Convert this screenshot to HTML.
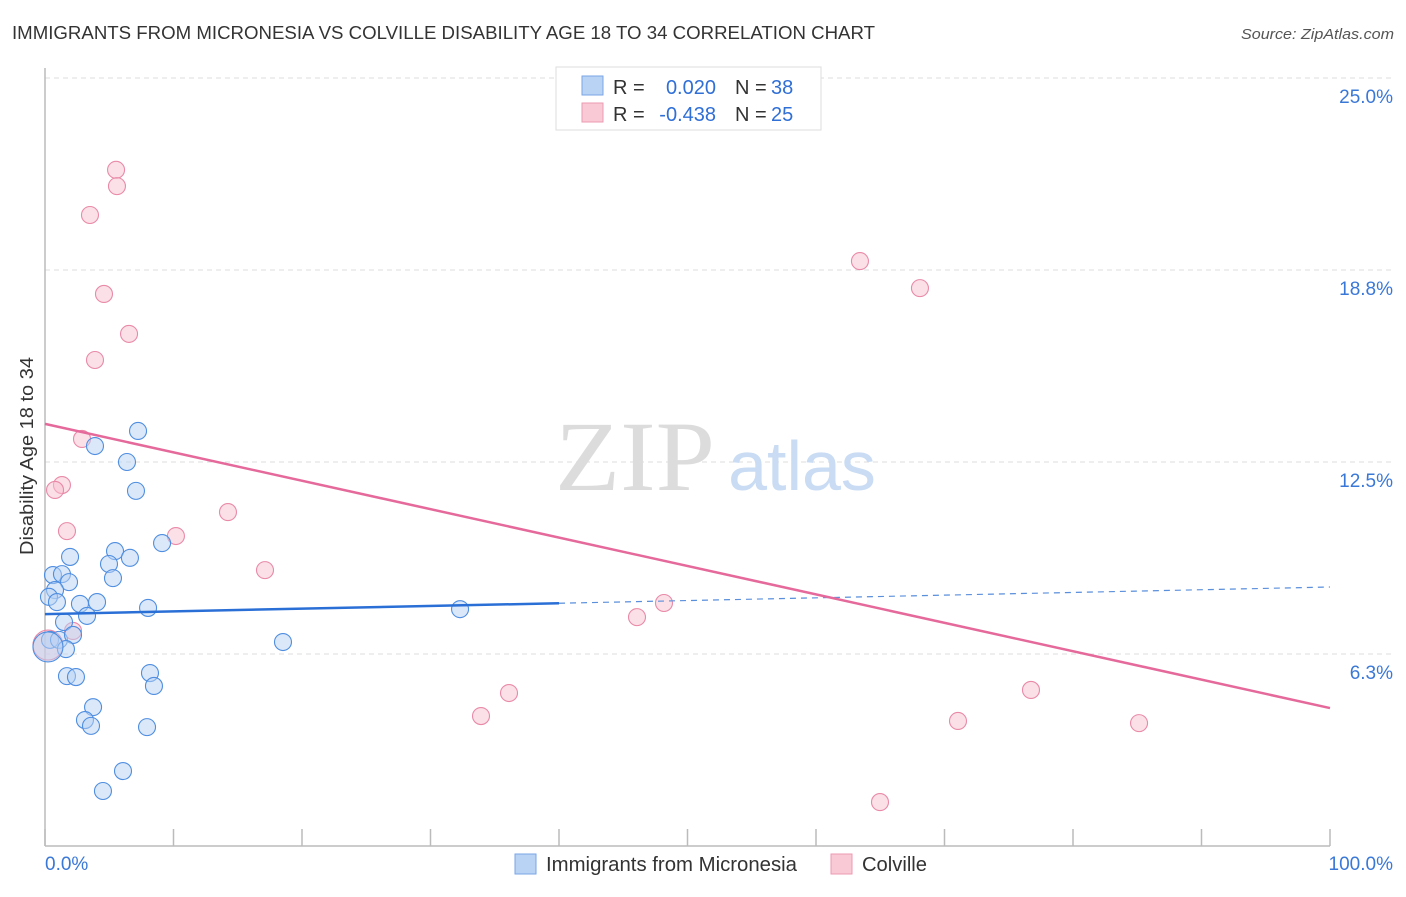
<!DOCTYPE html>
<html><head><meta charset="utf-8"><style>
body{margin:0;background:#fff;font-family:"Liberation Sans",sans-serif;}
svg text{font-family:"Liberation Sans",sans-serif;}
</style></head><body>
<svg width="1406" height="892" id="chart">
<text x="12" y="39" font-size="18" fill="#333" textLength="863" lengthAdjust="spacingAndGlyphs">IMMIGRANTS FROM MICRONESIA VS COLVILLE DISABILITY AGE 18 TO 34 CORRELATION CHART</text>
<text x="1394" y="39" font-size="15" fill="#555" font-style="italic" text-anchor="end" textLength="153" lengthAdjust="spacingAndGlyphs">Source: ZipAtlas.com</text>
<g id="grid"></g>
<line x1="45" y1="68" x2="45" y2="846" stroke="#bbb" stroke-width="1.5"/>
<line x1="45" y1="846" x2="1330" y2="846" stroke="#bbb" stroke-width="1.5"/>
<g id="xticks"></g>
<text x="33" y="456" font-size="18" fill="#333" text-anchor="middle" textLength="198" lengthAdjust="spacingAndGlyphs" transform="rotate(-90 33 456)">Disability Age 18 to 34</text>
<text x="45" y="870" font-size="19" fill="#3a78d8" text-anchor="start">0.0%</text>
<text x="1393" y="870" font-size="19" fill="#3a78d8" text-anchor="end">100.0%</text>
<g>
<text x="635" y="490" font-size="100" fill="#dcdcdc" style="font-family:'Liberation Serif',serif" text-anchor="middle" textLength="160" lengthAdjust="spacingAndGlyphs">ZIP</text>
<text x="802" y="490" font-size="70" fill="#c9dcf3" text-anchor="middle">atlas</text>
</g>
<g id="points"></g>
<g id="lines"></g>
<g>
<rect x="556" y="67" width="265" height="63" fill="#fff" stroke="#ddd"/>
<rect x="582" y="76" width="21" height="19" fill="#b9d3f4" stroke="#7aa6e6"/>
<rect x="582" y="103" width="21" height="19" fill="#f9c9d6" stroke="#eb9ab2"/>
<text x="613" y="94" font-size="20" fill="#333">R =</text>
<text x="716" y="94" font-size="20" fill="#2f6fd6" text-anchor="end">0.020</text>
<text x="735" y="94" font-size="20" fill="#333">N =</text>
<text x="771" y="94" font-size="20" fill="#2f6fd6">38</text>
<text x="613" y="121" font-size="20" fill="#333">R =</text>
<text x="716" y="121" font-size="20" fill="#2f6fd6" text-anchor="end">-0.438</text>
<text x="735" y="121" font-size="20" fill="#333">N =</text>
<text x="771" y="121" font-size="20" fill="#2f6fd6">25</text>
</g>
<g>
<rect x="515" y="854" width="21" height="20" fill="#b9d3f4" stroke="#7aa6e6"/>
<text x="546" y="871" font-size="20" fill="#333" textLength="251" lengthAdjust="spacingAndGlyphs">Immigrants from Micronesia</text>
<rect x="831" y="854" width="21" height="20" fill="#f9c9d6" stroke="#eb9ab2"/>
<text x="862" y="871" font-size="20" fill="#333" textLength="65" lengthAdjust="spacingAndGlyphs">Colville</text>
</g>
</svg>
<script>
const yTicks=[6.25,12.5,18.75,25];
const yTickLabels=["6.3%","12.5%","18.8%","25.0%"];
const xTicks=[0,10,20,30,40,50,60,70,80,90,100];
const blueX=[7.24,3.89,6.38,7.08,9.11,5.45,1.95,6.61,4.98,0.62,1.32,5.29,1.87,0.78,0.31,0.93,4.05,2.72,8.02,3.27,1.48,32.3,0.39,1.09,2.18,18.52,1.63,1.71,2.41,8.17,8.48,3.74,3.11,3.58,7.94,6.07,4.51,0.23];
const blueY=[13.51,13.02,12.5,11.56,9.86,9.6,9.41,9.38,9.18,8.82,8.85,8.72,8.59,8.33,8.11,7.94,7.94,7.88,7.75,7.49,7.29,7.71,6.71,6.71,6.87,6.64,6.41,5.53,5.5,5.63,5.21,4.52,4.1,3.91,3.87,2.44,1.79,6.48];
const pinkX=[5.53,5.6,3.5,4.59,6.54,3.89,2.88,1.32,0.78,1.71,10.19,14.24,17.12,2.18,63.42,68.09,48.17,46.07,36.11,33.93,76.73,71.05,85.14,64.98,0.23];
const pinkY=[22.01,21.48,20.54,17.97,16.67,15.82,13.25,11.75,11.59,10.25,10.09,10.87,8.98,7.0,19.04,18.16,7.91,7.45,4.98,4.23,5.08,4.07,4.0,1.43,6.54];
const blueTrend=[7.55,8.43];
const blueSolidEnd=40;
const pinkTrend=[13.74,4.49];
const X=v=>45+v*12.85, Y=v=>846-v*30.72;
const NS="http://www.w3.org/2000/svg";
function mk(tag,attrs,parent){const e=document.createElementNS(NS,tag);for(const k in attrs)e.setAttribute(k,attrs[k]);document.getElementById(parent).appendChild(e);return e;}
yTicks.forEach((t,i)=>{
 const l=mk('line',{x1:45,x2:1393,y1:Y(t),y2:Y(t),stroke:'#ddd','stroke-dasharray':'5,4'},'grid');
 
 
 const tx=mk('text',{x:1393,y:Y(t)+25,'font-size':19,fill:'#3a78d8','text-anchor':'end'},'grid');
 tx.textContent=yTickLabels[i];
 
 
});
xTicks.forEach(t=>{
 const l=mk('line',{x1:X(t),x2:X(t),y1:829,y2:846,stroke:'#bbb','stroke-width':1.5},'xticks');
 
 
});
function pts(xs,ys,fill,stroke,name){
 xs.forEach((x,i)=>{
  const big=i===xs.length-1;
  const c=mk('circle',{cx:X(x),cy:Y(ys[i]),r:big?15:8.5,fill:fill,'fill-opacity':0.5,stroke:stroke,'stroke-width':1.1},'points');
  
  
 });
}
pts(pinkX,pinkY,'#f7c2d2','#e98aa8','colville-point');
pts(blueX,blueY,'#b7d1f3','#4f8ee0','micronesia-point');
const by=x=>blueTrend[0]+(blueTrend[1]-blueTrend[0])*x/100;
let l1=mk('line',{x1:X(0),y1:Y(by(0)),x2:X(blueSolidEnd),y2:Y(by(blueSolidEnd)),stroke:'#2a6fd6','stroke-width':2.5},'lines');


let l2=mk('line',{x1:X(blueSolidEnd),y1:Y(by(blueSolidEnd)),x2:X(100),y2:Y(by(100)),stroke:'#5a8fdc','stroke-width':1.2,'stroke-dasharray':'6,5'},'lines');


let l3=mk('line',{x1:X(0),y1:Y(pinkTrend[0]),x2:X(100),y2:Y(pinkTrend[1]),stroke:'#e5699a','stroke-width':2.5},'lines');


</script>
</body></html>
